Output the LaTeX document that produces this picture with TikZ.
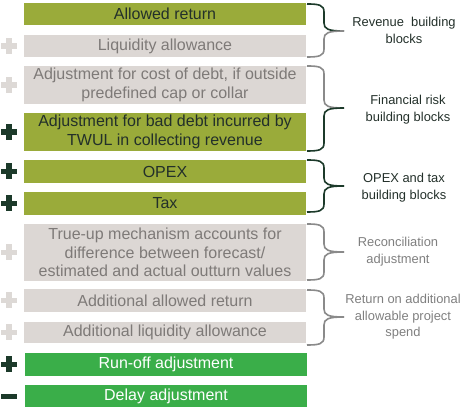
\documentclass[tikz,border=0pt]{standalone}
\usepackage{fontspec}
\setmainfont{Liberation Sans}
\definecolor{cOlive}{HTML}{9AAB3A}
\definecolor{cGray}{HTML}{DCD7D4}
\definecolor{cGreen}{HTML}{3AAE49}
\definecolor{cDark}{HTML}{1C3A2A}
\definecolor{cDarkText}{HTML}{23302A}
\definecolor{cGrayText}{HTML}{7E7A78}
\definecolor{cPlusGray}{HTML}{DDD9D6}
\definecolor{cBraceGray}{HTML}{8A8A8A}
\definecolor{cLblGray}{HTML}{7F7F7F}
\begin{document}
\begin{tikzpicture}[x=1pt,y=-1pt,
  blk/.style={minimum width=282pt, inner sep=0pt, align=center, font=\fontsize{16}{18.5}\selectfont},
  oliveblk/.style={blk, fill=cOlive, text=cDarkText},
  grayblk/.style={blk, fill=cGray, text=cGrayText},
  greenblk/.style={blk, fill=cGreen, text=white},
  lbl/.style={align=center, font=\fontsize{12.9}{16.5}\selectfont},
  bracepen/.style={line width=1.6pt},
  plusmark/.pic={\fill (-8,-2.75) rectangle (8,2.75); \fill (-2.75,-8) rectangle (2.75,8);},
  minusmark/.pic={\fill (-8,-2.5) rectangle (8,2.5);}
]
\useasboundingbox (0,0) rectangle (466,411);
% blocks
\node[oliveblk, minimum height=22pt] (b1) at (165,14) {Allowed return};
\node[grayblk, minimum height=22pt] (b2) at (165,46) {Liquidity allowance};
\node[grayblk, minimum height=38pt] (b3) at (165,85) {Adjustment for cost of debt, if outside\\predefined cap or collar};
\node[oliveblk, minimum height=38pt] (b4) at (165,132) {Adjustment for bad debt incurred by\\TWUL in collecting revenue};
\node[oliveblk, minimum height=23pt] (b5) at (165,171.5) {OPEX};
\node[oliveblk, minimum height=23pt] (b6) at (165,203.5) {Tax};
\node[grayblk, minimum height=57pt] (b7) at (165,252.5) {True-up mechanism accounts for\\difference between forecast/\\estimated and actual outturn values};
\node[grayblk, minimum height=23pt] (b8) at (165,300.5) {Additional allowed return};
\node[grayblk, minimum height=21pt] (b9) at (165,332.5) {Additional liquidity allowance};
\node[greenblk, minimum height=23pt] (b10) at (166,364.5) {Run-off adjustment};
\node[greenblk, minimum height=22pt] (b11) at (166,396) {Delay adjustment};
% signs
\pic[color=cPlusGray] at (9,46) {plusmark};
\pic[color=cPlusGray] at (9,85) {plusmark};
\pic[color=cDark] at (9,132) {plusmark};
\pic[color=cDark] at (9,171.5) {plusmark};
\pic[color=cDark] at (9,203.5) {plusmark};
\pic[color=cPlusGray] at (9,252.5) {plusmark};
\pic[color=cPlusGray] at (9,300.5) {plusmark};
\pic[color=cPlusGray] at (9,332.5) {plusmark};
\pic[color=cDark] at (9,364.5) {plusmark};
\pic[color=cDark] at (9,396.5) {minusmark};
% braces: upper half, lower half
\newcommand{\bracetop}[3]{\draw[bracepen,#1] (307,#2) .. controls (319,#2) and (324,#2+1) .. (324,#2+8) -- (324,#3-8) .. controls (324,#3-2) and (328,#3) .. (344,#3);}
\newcommand{\bracebot}[3]{\draw[bracepen,#1] (344,#2) .. controls (328,#2) and (324,#2+2) .. (324,#2+8) -- (324,#3-8) .. controls (324,#3-1) and (319,#3) .. (307,#3);}
\bracetop{cDark}{4}{31}\bracebot{cBraceGray}{31}{57}
\bracetop{cBraceGray}{66}{108}\bracebot{cDark}{108}{151}
\bracetop{cDark}{160}{186}\bracebot{cDark}{186}{212}
\bracetop{cBraceGray}{224}{252}\bracebot{cBraceGray}{252}{280}
\bracetop{cBraceGray}{290}{317}\bracebot{cBraceGray}{317}{345}
% labels
\node[lbl, text=cDarkText] (l1) at (404,30.5) {Revenue\ \ building\\blocks};
\node[lbl, text=cDarkText] (l2) at (408,109.5) {Financial risk\\building blocks};
\node[lbl, text=cDarkText] (l3) at (404,187.5) {OPEX and tax\\building blocks};
\node[lbl, text=cLblGray] (l4) at (398,251.5) {Reconciliation\\adjustment};
\node[lbl, text=cLblGray] (l5) at (403,317) {Return on additional\\allowable project\\spend};
\end{tikzpicture}
\end{document}
